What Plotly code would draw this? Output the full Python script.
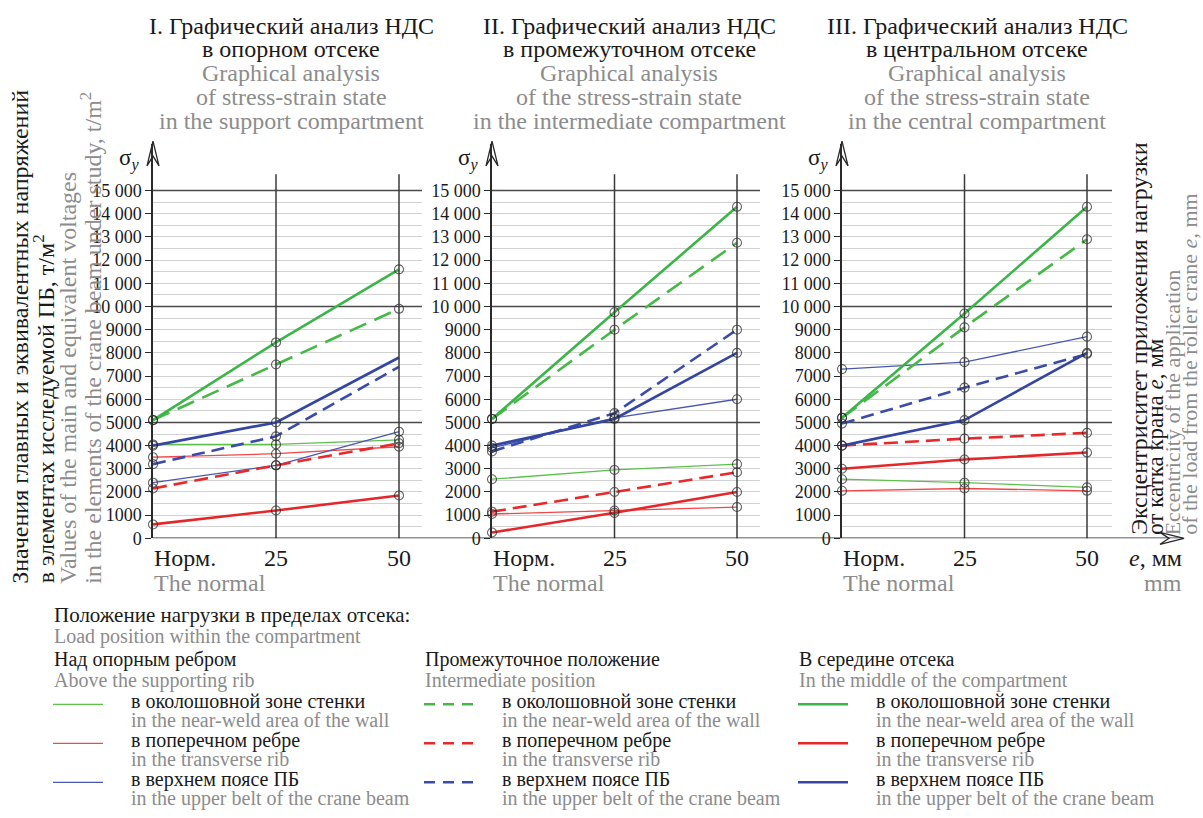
import plotly.graph_objects as go

W, H = 1203, 818
FONT = "Liberation Serif, Times New Roman, Tinos, DejaVu Serif, serif"
GRAY = "#8c8c8c"
INK = "#1a1a1a"

# ---------------- data ----------------
e_values = [0, 25, 50]
e_labels = ["Норм.", "25", "50"]
e_label_en = "The normal"

y_ticks = list(range(0, 15001, 1000))
y_tick_text = [f"{v:,}".replace(",", " ") if v >= 10000 else str(v) for v in y_ticks]
y_minor = [v for v in range(500, 15000, 500) if v % 5000 != 0]
y_major = [5000, 10000, 15000]

# Panel I - support compartment
p1_above_wall = [4050, 4050, 4250]
p1_above_rib = [3500, 3650, 3950]
p1_above_belt = [2400, 3150, 4600]
p1_inter_wall = [5100, 7500, 9900]
p1_inter_rib = [2150, 3150, 4100]
p1_inter_belt = [3200, 4400, 7400]
p1_mid_wall = [5100, 8450, 11600]
p1_mid_rib = [600, 1200, 1850]
p1_mid_belt = [4000, 5000, 7800]

# Panel II - intermediate compartment
p2_above_wall = [2550, 2950, 3200]
p2_above_rib = [1050, 1200, 1350]
p2_above_belt = [3900, 5200, 6000]
p2_inter_wall = [5150, 9000, 12750]
p2_inter_rib = [1150, 2000, 2850]
p2_inter_belt = [3750, 5400, 9000]
p2_mid_wall = [5150, 9750, 14300]
p2_mid_rib = [250, 1100, 2000]
p2_mid_belt = [4000, 5150, 8000]

# Panel III - central compartment
p3_above_wall = [2550, 2400, 2200]
p3_above_rib = [2050, 2150, 2050]
p3_above_belt = [7300, 7600, 8700]
p3_inter_wall = [5200, 9100, 12900]
p3_inter_rib = [4000, 4300, 4550]
p3_inter_belt = [4950, 6500, 7950]
p3_mid_wall = [5200, 9700, 14300]
p3_mid_rib = [3000, 3400, 3700]
p3_mid_belt = [4000, 5100, 8000]

# points drawn without a circle marker: (panel, series, index)
unmarked = [(1, "inter_belt", 2), (1, "mid_belt", 2)]

titles_ru = [["I. Графический анализ НДС", "в опорном отсеке"],
             ["II. Графический анализ НДС", "в промежуточном отсеке"],
             ["III. Графический анализ НДС", "в центральном отсеке"]]
titles_en = [["Graphical analysis", "of stress-strain state", "in the support compartment"],
             ["Graphical analysis", "of the stress-strain state", "in the intermediate compartment"],
             ["Graphical analysis", "of the stress-strain state", "in the central compartment"]]

ylab_ru = ["Значения главных и эквивалентных напряжений",
           "в элементах исследуемой ПБ, т/м<sup>2</sup>"]
ylab_en = ["Values of the main and equivalent voltages",
           "in the elements of the crane beam under study, t/m<sup>2</sup>"]
xlab_ru = ["Эксцентриситет приложения нагрузки", "от катка крана <i>e</i>, мм"]
xlab_en = ["Eccentricity of the application", "of the load from the roller crane <i>e</i>, mm"]

legend_head_ru = "Положение нагрузки в пределах отсека:"
legend_head_en = "Load position within the compartment"
group_ru = ["Над опорным ребром", "Промежуточное положение", "В середине отсека"]
group_en = ["Above the supporting rib", "Intermediate position", "In the middle of the compartment"]
element_ru = ["в околошовной зоне стенки", "в поперечном ребре", "в верхнем поясе ПБ"]
element_en = ["in the near-weld area of the wall", "in the transverse rib", "in the upper belt of the crane beam"]

# ---------------- styles ----------------
groups = ["above", "inter", "mid"]
elements = ["wall", "rib", "belt"]
colors = {
    ("above", "wall"): "#5cc04b", ("above", "rib"): "#f04848", ("above", "belt"): "#4858b2",
    ("inter", "wall"): "#46b847", ("inter", "rib"): "#e8282b", ("inter", "belt"): "#3a4ca8",
    ("mid", "wall"): "#3cb548", ("mid", "rib"): "#e6272a", ("mid", "belt"): "#3446a2",
}
widths = {"above": 1.3, "inter": 2.6, "mid": 2.6}
dashes = {("inter", "wall"): "18px,9px", ("inter", "rib"): "14px,7px", ("inter", "belt"): "13px,7px"}
legend_dash = "11px,8px"

data = {}
for p in (1, 2, 3):
    for g in groups:
        for el in elements:
            data[(p, g, el)] = globals()[f"p{p}_{g}_{el}"]

ax_left = [153, 492, 842]
ax_50 = [399, 737, 1087]
ax_right = [422, 760, 1112]
title_cx = [291, 629, 977]
y_bottom_px, y_top_px = 545, 146
y_top_val = 17000


def px(x):
    return x / W


def py(y):
    return 1 - y / H


def xa(p):
    return "x" if p == 1 else f"x{p}"


def ya(p):
    return "y" if p == 1 else f"y{p}"


def fnt(size, color=INK):
    return dict(family=FONT, size=size, color=color)


def note(text, x, y, size, color=INK, xanchor="center", yanchor="middle", xref="paper", **kw):
    d = dict(text=text, x=x, y=py(y), xref=xref, yref="paper", xanchor=xanchor, yanchor=yanchor,
             showarrow=False, font=fnt(size, color), borderpad=0)
    d.update(kw)
    return d


fig = go.Figure()

# lines
for p in (1, 2, 3):
    for g in groups:
        for el in elements:
            fig.add_trace(go.Scatter(
                x=e_values, y=data[(p, g, el)], mode="lines",
                line=dict(color=colors[(g, el)], width=widths[g], dash=dashes.get((g, el), "solid")),
                xaxis=xa(p), yaxis=ya(p), showlegend=False, hoverinfo="skip", cliponaxis=False))
# markers
for p in (1, 2, 3):
    for g in groups:
        for el in elements:
            sizes = [0 if (p, f"{g}_{el}", i) in unmarked else 9 for i in range(3)]
            fig.add_trace(go.Scatter(
                x=e_values, y=data[(p, g, el)], mode="markers",
                marker=dict(symbol="circle-open", size=sizes, color="#222", line=dict(width=1.1)),
                xaxis=xa(p), yaxis=ya(p), showlegend=False, cliponaxis=False,
                name=f"{group_ru[groups.index(g)]} / {element_ru[elements.index(el)]}"))

layout = dict(width=W, height=H, autosize=False, margin=dict(l=0, r=0, t=0, b=0),
              paper_bgcolor="white", plot_bgcolor="rgba(0,0,0,0)", showlegend=False,
              font=fnt(16))
shapes = []
annotations = []

for i, p in enumerate((1, 2, 3)):
    xr = 50 * (ax_right[i] - ax_left[i]) / (ax_50[i] - ax_left[i])
    layout[f"xaxis{p if p > 1 else ''}"] = dict(domain=[px(ax_left[i]), px(ax_right[i])], range=[0, xr],
                                                   visible=False, anchor=ya(p))
    layout[f"yaxis{p if p > 1 else ''}"] = dict(
        domain=[py(y_bottom_px), py(y_top_px)], range=[0, y_top_val], anchor=xa(p),
        showline=True, linecolor="#2a2a2a", linewidth=1.5, ticks="outside", ticklen=6,
        tickcolor="#2a2a2a", tickwidth=1.2, tickvals=y_ticks, ticktext=y_tick_text,
        tickfont=fnt(18), showgrid=False, zeroline=False,
        minor=dict(tickvals=y_minor, showgrid=True, gridcolor="#d2d2d2", gridwidth=1.3, ticks=""))
    # major horizontal grid
    for v in y_major:
        shapes.append(dict(type="line", xref=f"{xa(p)} domain", yref=ya(p), x0=0, x1=1, y0=v, y1=v,
                           line=dict(color="#4a4a4a", width=1.5), layer="below"))
    # vertical grid at eccentricities
    for v in e_values[1:]:
        shapes.append(dict(type="line", xref=xa(p), yref=ya(p), x0=v, x1=v, y0=-350, y1=15700,
                           line=dict(color="#3a3a3a", width=1.5), layer="above"))
    # y-axis arrow head
    a = ax_left[i]
    shapes.append(dict(type="path", xref="paper", yref="paper",
                       path=f"M {px(a-6)} {py(168)} L {px(a)} {py(143)} L {px(a+6)} {py(168)} L {px(a)} {py(158)} Z",
                       line=dict(color="#2a2a2a", width=1.3), fillcolor="rgba(0,0,0,0)"))
    # sigma label
    annotations.append(note("σ<sub><i>y</i></sub>", px(a - 24), 161, 23))
    # titles
    cx = title_cx[i]
    for j, t in enumerate(titles_ru[i]):
        annotations.append(note(t, px(cx), [26, 50][j], 24))
    for j, t in enumerate(titles_en[i]):
        annotations.append(note(t, px(cx), [74, 98, 122][j], 24, GRAY))
    # x tick labels
    annotations.append(note(e_labels[0], 0, 565, 24, xanchor="left", xref=xa(p)))
    annotations.append(note(e_label_en, 0, 590, 24, GRAY, xanchor="left", xref=xa(p)))
    for v, t in zip(e_values[1:], e_labels[1:]):
        annotations.append(note(t, v, 565, 24, xref=xa(p)))

# common x axis with arrow
shapes.append(dict(type="line", xref="paper", yref="y", x0=px(153), x1=px(1183), y0=0, y1=0,
                   line=dict(color="#2a2a2a", width=1.5)))
shapes.append(dict(type="path", xref="paper", yref="paper",
                   path=f"M {px(1160)} {py(539)} L {px(1184)} {py(545)} L {px(1160)} {py(551)} L {px(1169)} {py(545)} Z",
                   line=dict(color="#2a2a2a", width=1.3), fillcolor="rgba(0,0,0,0)"))
annotations.append(note("<i>e</i>, мм", px(1183), 565, 24, xanchor="right"))
annotations.append(note("mm", px(1183), 590, 24, GRAY, xanchor="right"))

# vertical axis titles
for t, x, c in zip(ylab_ru + ylab_en, [20, 44, 68, 91], [INK, INK, GRAY, GRAY]):
    annotations.append(note(t, px(x), 592, 24, c, yanchor="bottom", textangle=-90))
for t, x, c, s in zip(xlab_ru + xlab_en, [1139, 1156, 1172, 1190], [INK, INK, GRAY, GRAY], [24, 23, 22, 22]):
    annotations.append(note(t, px(x), 543, s, c, yanchor="bottom", textangle=-90))

# legend
col_x = [53, 424, 798]
annotations.append(note(legend_head_ru, px(53), 623, 21, xanchor="left"))
annotations.append(note(legend_head_en, px(53), 644, 20, GRAY, xanchor="left"))
for k, g in enumerate(groups):
    cx0 = col_x[k]
    annotations.append(note(group_ru[k], px(cx0), 668, 20, xanchor="left"))
    annotations.append(note(group_en[k], px(cx0), 689, 20, GRAY, xanchor="left"))
    for m, el in enumerate(elements):
        yrow = 710 + 39.5 * m
        shapes.append(dict(type="line", xref="paper", yref="paper", x0=px(cx0), x1=px(cx0 + 50),
                           y0=py(yrow + 3), y1=py(yrow + 3),
                           line=dict(color=colors[(g, el)], width=widths[g],
                                     dash=legend_dash if (g, el) in dashes else "solid")))
        annotations.append(note(element_ru[m], px(cx0 + 77), yrow, 20, xanchor="left"))
        annotations.append(note(element_en[m], px(cx0 + 77), yrow + 19, 20, GRAY, xanchor="left"))

layout["shapes"] = shapes
layout["annotations"] = annotations
fig.update_layout(**layout)
fig.write_html("out.html", config={"displayModeBar": False},
               post_script="document.body.style.margin='0';document.body.style.overflow='hidden';")
